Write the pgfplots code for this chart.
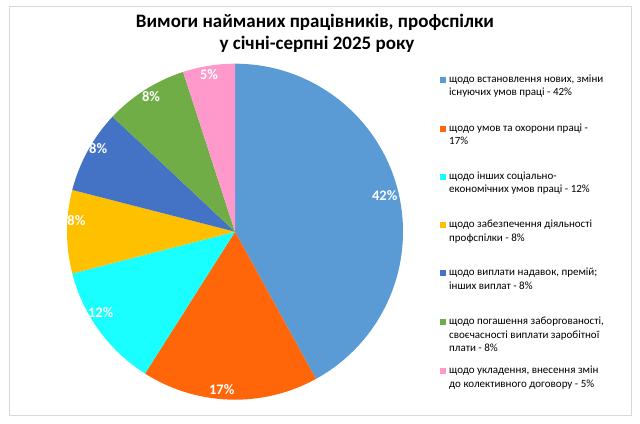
\documentclass[border=0pt]{standalone}
\usepackage{pgfplots}
\pgfplotsset{compat=1.18}
\usepackage{pgfplotstable}
\usepackage{fontspec}
\setmainfont{Carlito}
\definecolor{cA}{HTML}{5B9BD5}
\definecolor{cB}{HTML}{FF660A}
\definecolor{cC}{HTML}{19FFFF}
\definecolor{cD}{HTML}{FFC000}
\definecolor{cE}{HTML}{4472C4}
\definecolor{cF}{HTML}{70AD47}
\definecolor{cG}{HTML}{FF99CC}
\definecolor{frame}{HTML}{D9D9D9}
% value, slice colour, label angle adjustment and label radius (layout)
\pgfplotstableread[col sep=comma]{
value,color,ladj,lr
42,cA,-0.9,154
17,cB,-3.0,158.5
12,cC,-4.8,157
8,cD,-4.0,159
8,cE,-2.4,160
8,cF,-0.5,159
5,cG,0.4,159
}\piedata
\newcommand\labelfont{\fontsize{14.5bp}{16bp}\selectfont\bfseries}
\newcommand\legfont{\fontsize{11bp}{13.5bp}\selectfont}
\newcommand\titlefont{\fontsize{19bp}{22.6bp}\selectfont\bfseries}
\begin{document}
\begin{tikzpicture}
\begin{axis}[scale only axis, width=640bp, height=423bp,
  xmin=0, xmax=640, ymin=0, ymax=423, hide axis, clip=false]
\path (axis cs:0,0) rectangle (axis cs:640,423);
\draw[frame, line width=1bp] (axis cs:9,8) rectangle (axis cs:631,416);
\xdef\cumangle{90}
\pgfplotsinvokeforeach{0,...,6}{%
  \pgfplotstablegetelem{#1}{value}\of\piedata
  \let\val\pgfplotsretval
  \pgfplotstablegetelem{#1}{color}\of\piedata
  \let\col\pgfplotsretval
  \pgfplotstablegetelem{#1}{ladj}\of\piedata
  \let\ladj\pgfplotsretval
  \pgfplotstablegetelem{#1}{lr}\of\piedata
  \let\lrad\pgfplotsretval
  \pgfmathsetmacro\angA{\cumangle}%
  \pgfmathsetmacro\angB{\cumangle-3.6*\val}%
  \pgfmathsetmacro\angM{(\angA+\angB)/2+\ladj}%
  \pgfmathsetmacro\lx{235+\lrad*cos(\angM)}%
  \pgfmathsetmacro\ly{191.3+\lrad*sin(\angM)}%
  \edef\temp{%
    \noexpand\fill[\col] (axis cs:235,191.3) -- ++(\angA:168bp) arc[start angle=\angA, end angle=\angB, radius=168bp] -- cycle;%
    \noexpand\node[text=white, font=\noexpand\labelfont, inner sep=0pt] at (axis cs:\lx,\ly) {\val\noexpand\%};%
  }%
  \temp
  \xdef\cumangle{\angB}%
}
% title
\node[anchor=base, font=\titlefont, inner sep=0pt] at (axis cs:315,395.7) {Вимоги найманих працівників, профспілки};
\node[anchor=base, font=\titlefont, inner sep=0pt] at (axis cs:317,373.1) {у січні-серпні 2025 року};
% legend squares
\fill[cA] (axis cs:440,339.9) rectangle (axis cs:446.2,346.1);
\fill[cB] (axis cs:440,290.9) rectangle (axis cs:446.2,297.1);
\fill[cC] (axis cs:440,242.9) rectangle (axis cs:446.2,249.1);
\fill[cD] (axis cs:440,194.9) rectangle (axis cs:446.2,201.1);
\fill[cE] (axis cs:440,146.9) rectangle (axis cs:446.2,153.1);
\fill[cF] (axis cs:440,97.9) rectangle (axis cs:446.2,104.1);
\fill[cG] (axis cs:440,48.9) rectangle (axis cs:446.2,55.1);
% legend text
\begin{scope}[every node/.style={anchor=base west, inner sep=0pt, font=\legfont}]
\node at (axis cs:449,340.5) {щодо встановлення нових, зміни};
\node at (axis cs:449,327.0) {існуючих умов праці - 42\%};
\node at (axis cs:449,291.5) {щодо умов та охорони праці -};
\node at (axis cs:449,278.0) {17\%};
\node at (axis cs:449,243.5) {щодо інших соціально-};
\node at (axis cs:449,230.0) {економічних умов праці - 12\%};
\node at (axis cs:449,195.5) {щодо забезпечення діяльності};
\node at (axis cs:449,182.0) {профспілки - 8\%};
\node at (axis cs:449,147.5) {щодо виплати надавок, премій;};
\node at (axis cs:449,134.0) {інших виплат - 8\%};
\node at (axis cs:449,98.5) {щодо погашення заборгованості,};
\node at (axis cs:449,85.0) {своєчасності виплати заробітної};
\node at (axis cs:449,71.5) {плати - 8\%};
\node at (axis cs:449,49.5) {щодо укладення, внесення змін};
\node at (axis cs:449,36.0) {до колективного договору - 5\%};
\end{scope}
\end{axis}
\end{tikzpicture}
\end{document}
